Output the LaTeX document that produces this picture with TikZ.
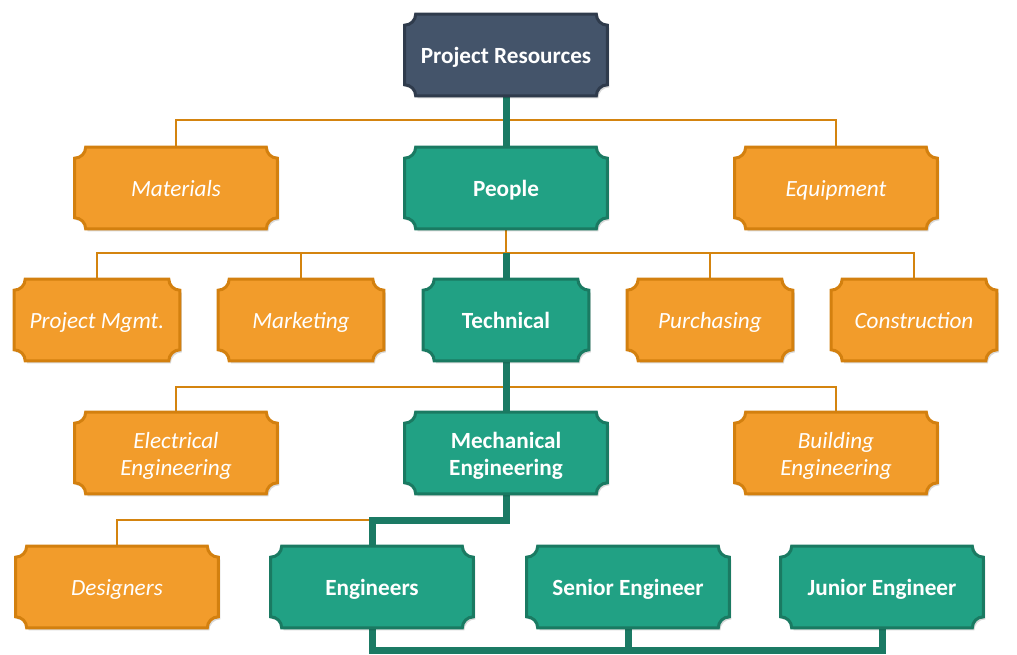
\documentclass[tikz,border=0pt]{standalone}
\usepackage{fontspec}
\setmainfont{Carlito}
\usetikzlibrary{calc}

\definecolor{boxorange}{HTML}{F29C2B}
\definecolor{edgeorange}{HTML}{D3800F}
\definecolor{boxteal}{HTML}{21A184}
\definecolor{edgeteal}{HTML}{1A7A62}
\definecolor{boxdark}{HTML}{44546A}
\definecolor{edgedark}{HTML}{2F3B4C}
\definecolor{lineorange}{HTML}{D4840F}
\definecolor{lineteal}{HTML}{1B7A64}

\pgfdeclarelayer{background}
\pgfsetlayers{background,main}

\newcommand{\boxfont}{\fontsize{13.2}{15.5}\selectfont}
\newcommand{\notch}{0.22cm}
% outline with the cut-in corners, taken from a node's anchors
\newcommand{\plaquepath}[1]{([xshift=\notch]#1.north west) -- ([xshift=-\notch]#1.north east)
    arc[start angle=180,end angle=270,radius=\notch] -- ([yshift=\notch]#1.south east)
    arc[start angle=90,end angle=180,radius=\notch] -- ([xshift=\notch]#1.south west)
    arc[start angle=0,end angle=90,radius=\notch] -- ([yshift=-\notch]#1.north west)
    arc[start angle=270,end angle=360,radius=\notch] -- cycle}
% lowers a line of text without changing its box
\newcommand{\lowline}[1]{\raisebox{-1.8pt}[\height][\depth]{#1}}

\tikzset{
    plaque/.style={inner sep=0pt,minimum width=4.04cm,minimum height=1.62cm,
        align=center,text=white},
    narrow/.style={minimum width=3.3cm},
    oneline/.style={text height=11pt,text depth=1.4pt},
    side/.style={plaque,font=\boxfont\itshape},
    main/.style={plaque,font=\boxfont\bfseries},
    orangeshape/.style={fill=boxorange,draw=edgeorange,line width=0.06cm},
    tealshape/.style={fill=boxteal,draw=edgeteal,line width=0.06cm},
    darkshape/.style={fill=boxdark,draw=edgedark,line width=0.06cm},
    twig/.style={lineorange,line width=0.05cm},
    trunk/.style={lineteal,line width=0.14cm}
}

\begin{document}
\begin{tikzpicture}[x=0.02cm,y=0.02cm]
    \useasboundingbox (0,0) rectangle (1017,-655);

    % top
    \node[main,oneline] (res) at (506,-55) {Project Resources};

    % second row
    \node[side,oneline] (mat) at (176,-188) {Materials};
    \node[main,oneline] (ppl) at (506,-188) {People};
    \node[side,oneline] (eqp) at (836,-188) {Equipment};

    % third row
    \node[side,narrow,oneline] (pm) at (97,-320) {Project Mgmt.};
    \node[side,narrow,oneline] (mkt) at (301,-320) {Marketing};
    \node[main,narrow,oneline] (tech) at (506,-320) {Technical};
    \node[side,narrow,oneline] (pur) at (710,-320) {Purchasing};
    \node[side,narrow,oneline] (con) at (914,-320) {Construction};

    % fourth row
    \node[side] (elec) at (176,-453) {\lowline{Electrical}\\\lowline{Engineering}};
    \node[main] (mech) at (506,-453) {\lowline{Mechanical}\\\lowline{Engineering}};
    \node[side] (bld) at (836,-453) {\lowline{Building}\\\lowline{Engineering}};

    % fifth row
    \node[side,oneline] (des) at (117,-587) {Designers};
    \node[main,oneline] (eng) at (372,-587) {Engineers};
    \node[main,oneline] (sen) at (628,-587) {Senior Engineer};
    \node[main,oneline] (jun) at (882,-587) {Junior Engineer};

    \coordinate (bus1) at (506,-120);
    \coordinate (bus2) at (506,-253);
    \coordinate (bus3) at (506,-387);
    \coordinate (bus4) at (372,-520);
    \coordinate (bus5) at (506,-650);

    \begin{pgfonlayer}{background}
        % thin links
        \draw[twig] (mat.north) |- (bus1) -| (eqp.north);
        \draw[twig] (ppl.south) -- (bus2);
        \draw[twig] (pm.north) |- (bus2) -| (con.north);
        \draw[twig] (mkt.north) |- (bus2) -| (pur.north);
        \draw[twig] (elec.north) |- (bus3) -| (bld.north);
        \draw[twig] (des.north) |- (bus4);

        % thick links
        \draw[trunk] (res.south) -- (ppl.north);
        \draw[trunk] (bus2) -- (tech.north);
        \draw[trunk] (tech.south) -- (mech.north);
        \draw[trunk] (mech.south) |- (bus4) -- (eng.north);
        \draw[trunk] (eng.south) |- (bus5) -| (jun.south);
        \draw[trunk] (sen.south) -- (sen.south |- bus5);

        % shadows and boxes
        \foreach \n in {res,mat,ppl,eqp,pm,mkt,tech,pur,con,elec,mech,bld,des,eng,sen,jun}
            \fill[black,opacity=0.15,transform canvas={shift={(0.04cm,-0.05cm)}}] \plaquepath{\n};
        \draw[darkshape] \plaquepath{res};
        \foreach \n in {mat,eqp,pm,mkt,pur,con,elec,bld,des}
            \draw[orangeshape] \plaquepath{\n};
        \foreach \n in {ppl,tech,mech,eng,sen,jun}
            \draw[tealshape] \plaquepath{\n};
    \end{pgfonlayer}
\end{tikzpicture}
\end{document}
